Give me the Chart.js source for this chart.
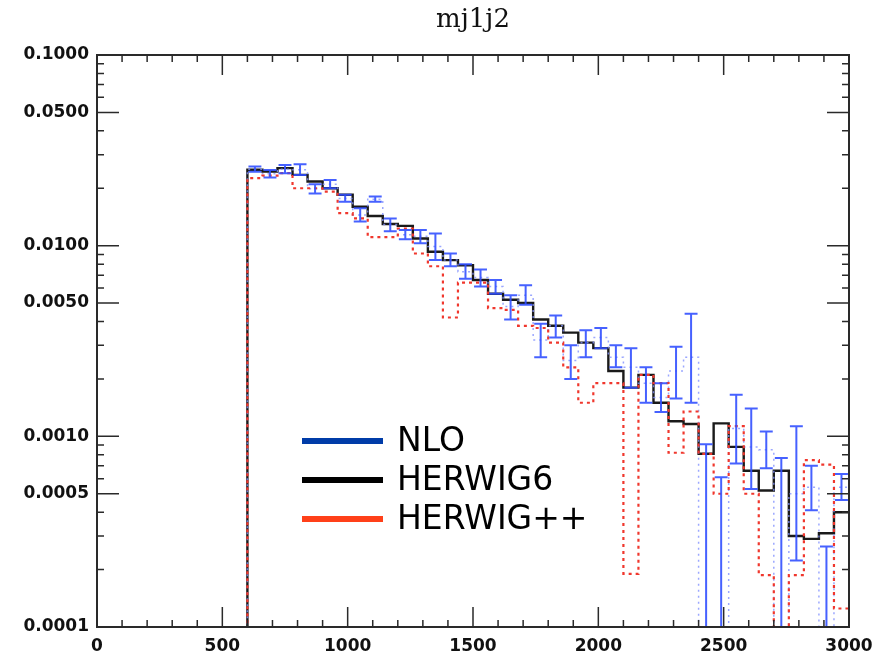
<!DOCTYPE html>
<html>
<head>
<meta charset="utf-8">
<script src="https://cdn.jsdelivr.net/npm/chart.js@4.4.1/dist/chart.umd.min.js"></script>
<style>
  html, body { margin: 0; padding: 0; background: #fff; }
  #wrap { width: 888px; height: 668px; }
</style>
</head>
<body>
<div id="wrap"><canvas id="massChart" width="888" height="668"></canvas></div>
<script>
// bin lower edges (GeV), 60 GeV wide, last bin ends at 3000
const binLow = [600, 660, 720, 780, 840, 900, 960, 1020, 1080, 1140,
    1200, 1260, 1320, 1380, 1440, 1500, 1560, 1620, 1680, 1740,
    1800, 1860, 1920, 1980, 2040, 2100, 2160, 2220, 2280, 2340,
    2400, 2460, 2520, 2580, 2640, 2700, 2760, 2820, 2880, 2940];
const lastEdge = 3000;

const herwig6 = [0.0250, 0.0245, 0.0255, 0.0235, 0.0217, 0.0200, 0.0185, 0.0160, 0.0143, 0.0130,
    0.0127, 0.0109, 0.0093, 0.0084, 0.0079, 0.0066, 0.0056, 0.0052, 0.0050, 0.0041,
    0.0038, 0.0035, 0.0031, 0.0029, 0.0022, 0.0018, 0.0021, 0.0015, 0.0012, 0.00116,
    0.00081, 0.00117, 0.00088, 0.00066, 0.00052, 0.00066, 0.00030, 0.00029, 0.00031, 0.00040];

const herwigPP = [0.0226, 0.0233, 0.0240, 0.0200, 0.0200, 0.0192, 0.0148, 0.0139, 0.0111, 0.0111,
    0.0123, 0.0091, 0.0078, 0.0042, 0.0064, 0.0064, 0.0047, 0.0046, 0.0038, 0.0037,
    0.0031, 0.0023, 0.0015, 0.0019, 0.0019, 0.00019, 0.0021, 0.0019, 0.00082, 0.00135,
    0.00081, 0.00050, 0.00113, 0.00050, 0.000187, 0.00001, 0.000187, 0.00075, 0.00071, 0.000125];

// NLO central value and error band ends
const nloValue = [0.0252, 0.0238, 0.0252, 0.0250, 0.0199, 0.0210, 0.0177, 0.0145, 0.0175, 0.0129,
    0.0114, 0.0112, 0.0099, 0.0084, 0.0073, 0.0068, 0.0061, 0.0048, 0.0055, 0.0032,
    0.0038, 0.0025, 0.0031, 0.0033, 0.0026, 0.0023, 0.0019, 0.0016, 0.0022, 0.0026,
    0.00005, 0.00005, 0.0011, 0.00088, 0.00085, 0.00005, 0.0005, 0.00054, 0.00005, 0.00054];
const nloHigh = [0.0260, 0.0249, 0.0265, 0.0267, 0.0210, 0.0221, 0.0185, 0.0157, 0.0181, 0.0139,
    0.0121, 0.0121, 0.0116, 0.0091, 0.0080, 0.0075, 0.0066, 0.0055, 0.0062, 0.0039,
    0.0043, 0.0030, 0.0036, 0.0037, 0.0030, 0.0029, 0.0023, 0.0019, 0.00295, 0.0044,
    0.00091, 0.00061, 0.00165, 0.0014, 0.00106, 0.00077, 0.00113, 0.00070, 0.000264, 0.000635];
const nloLow = [0.0244, 0.0228, 0.0240, 0.0235, 0.0188, 0.0200, 0.0170, 0.0134, 0.0170, 0.0119,
    0.0108, 0.0103, 0.0084, 0.0078, 0.0067, 0.0061, 0.0056, 0.0041, 0.0049, 0.0026,
    0.0033, 0.0020, 0.0026, 0.0029, 0.0023, 0.0018, 0.0015, 0.00134, 0.00158, 0.0015,
    0.00001, 0.00001, 0.00072, 0.00053, 0.00068, 0.00001, 0.000223, 0.00041, 0.00001, 0.000464];

const yTickValues = [0.0001, 0.0005, 0.001, 0.005, 0.01, 0.05, 0.1];
const xTickValues = [0, 500, 1000, 1500, 2000, 2500, 3000];

const legendItems = [
    { label: 'NLO', color: '#003ca8' },
    { label: 'HERWIG6', color: '#000000' },
    { label: 'HERWIG++', color: '#ff4019' },
];

// step-histogram points: rise from below the axis at the first edge
function histPoints(values) {
    const pts = [{ x: binLow[0], y: 1e-6 }];
    binLow.forEach((x, i) => pts.push({ x: x, y: values[i] }));
    pts.push({ x: lastEdge, y: values[values.length - 1] });
    return pts;
}

const axisColor = '#2a2a2a';

// NLO error bars with caps
const errorBars = {
    id: 'errorBars',
    afterDatasetsDraw(chart) {
        const { ctx, chartArea: a, scales: { x, y } } = chart;
        ctx.save();
        ctx.beginPath();
        ctx.rect(a.left, a.top, a.right - a.left, a.bottom - a.top);
        ctx.clip();
        ctx.strokeStyle = 'rgba(50, 80, 255, 0.9)';
        ctx.lineWidth = 2;
        binLow.forEach((lo, i) => {
            const hi = i + 1 < binLow.length ? binLow[i + 1] : lastEdge;
            const xc = x.getPixelForValue((lo + hi) / 2);
            const half = (x.getPixelForValue(hi) - x.getPixelForValue(lo)) * 0.43;
            const yt = y.getPixelForValue(nloHigh[i]);
            const yb = y.getPixelForValue(nloLow[i]);
            ctx.beginPath();
            ctx.moveTo(xc, yt);
            ctx.lineTo(xc, yb);
            ctx.moveTo(xc - half, yt);
            ctx.lineTo(xc + half, yt);
            ctx.moveTo(xc - half, yb);
            ctx.lineTo(xc + half, yb);
            ctx.stroke();
        });
        ctx.restore();
    }
};

// frame, inward ticks on all sides, title and legend
const frame = {
    id: 'frame',
    afterDraw(chart) {
        const { ctx, chartArea: a, scales: { x, y } } = chart;
        ctx.save();
        ctx.strokeStyle = axisColor;
        ctx.lineWidth = 2;
        ctx.strokeRect(a.left, a.top, a.right - a.left, a.bottom - a.top);

        ctx.lineWidth = 1.5;
        ctx.beginPath();
        for (let v = 0; v <= 3000; v += 100) {
            const px = x.getPixelForValue(v);
            const len = v % 500 === 0 ? 20 : 7;
            ctx.moveTo(px, a.bottom);
            ctx.lineTo(px, a.bottom - len);
            ctx.moveTo(px, a.top);
            ctx.lineTo(px, a.top + len);
        }
        for (let d = 0.0001; d < 0.1; d *= 10) {
            for (let k = 1; k <= 9; k++) {
                const py = y.getPixelForValue(k * d);
                const len = (k === 1 || k === 5) ? 22 : 7;
                ctx.moveTo(a.left, py);
                ctx.lineTo(a.left + len, py);
                ctx.moveTo(a.right, py);
                ctx.lineTo(a.right - len, py);
            }
        }
        ctx.stroke();

        ctx.fillStyle = '#111';
        ctx.font = '26px "DejaVu Serif"';
        ctx.textAlign = 'center';
        ctx.textBaseline = 'middle';
        ctx.fillText('mj1j2', (a.left + a.right) / 2, 20);

        ctx.font = '33px "DejaVu Sans"';
        ctx.textAlign = 'left';
        legendItems.forEach((item, i) => {
            const ly = 441 + i * 39;
            ctx.strokeStyle = item.color;
            ctx.lineWidth = 6;
            ctx.beginPath();
            ctx.moveTo(302, ly);
            ctx.lineTo(383, ly);
            ctx.stroke();
            ctx.fillStyle = '#000';
            ctx.fillText(item.label, 397, ly + 1);
        });
        ctx.restore();
    }
};

const tickFont = { family: 'DejaVu Sans', size: 17, weight: 'bold' };

new Chart(document.getElementById('massChart'), {
    type: 'line',
    data: {
        datasets: [
            {
                label: 'HERWIG++',
                data: histPoints(herwigPP),
                stepped: 'before',
                borderColor: 'rgb(240, 55, 45)',
                borderWidth: 2.2,
                borderDash: [3, 4],
                pointRadius: 0,
                fill: false,
            },
            {
                label: 'NLO',
                data: histPoints(nloValue),
                stepped: 'before',
                borderColor: 'rgba(130, 145, 255, 0.8)',
                borderWidth: 1.5,
                borderDash: [2, 4],
                pointRadius: 0,
                fill: false,
            },
            {
                label: 'HERWIG6',
                data: histPoints(herwig6),
                stepped: 'before',
                borderColor: '#1a1a1a',
                borderWidth: 2.4,
                pointRadius: 0,
                fill: false,
            },
        ],
    },
    options: {
        responsive: false,
        animation: false,
        layout: { padding: { top: 55, right: 39, left: 0, bottom: 0 } },
        plugins: {
            legend: { display: false },
            title: { display: false },
            tooltip: { enabled: false },
        },
        scales: {
            x: {
                type: 'linear',
                min: 0,
                max: 3000,
                grid: { display: false, drawTicks: false },
                border: { display: false },
                afterBuildTicks: (s) => { s.ticks = xTickValues.map(v => ({ value: v })); },
                afterFit: (s) => { s.height = 41; },
                ticks: {
                    font: tickFont,
                    color: '#111',
                    padding: 9,
                    maxRotation: 0,
                    callback: (v) => String(v),
                },
            },
            y: {
                type: 'logarithmic',
                min: 0.0001,
                max: 0.1,
                grid: { display: false, drawTicks: false },
                border: { display: false },
                afterBuildTicks: (s) => { s.ticks = yTickValues.map(v => ({ value: v })); },
                afterFit: (s) => { s.width = 97; },
                ticks: {
                    font: tickFont,
                    color: '#111',
                    padding: 8,
                    callback: (v) => Number(v).toFixed(4),
                },
            },
        },
    },
    plugins: [errorBars, frame],
});
</script>
</body>
</html>
